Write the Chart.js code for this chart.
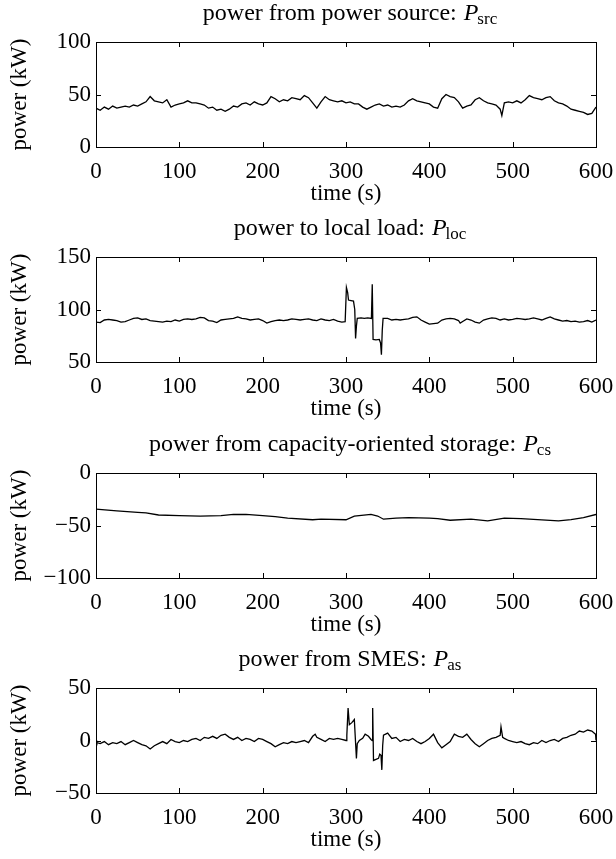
<!DOCTYPE html>
<html>
<head>
<meta charset="utf-8">
<script src="https://cdn.jsdelivr.net/npm/chart.js@4.4.1/dist/chart.umd.min.js"></script>
<style>
  html, body { margin: 0; padding: 0; background: #fff; overflow: hidden; }
  body { width: 616px; height: 859px; position: relative; }
  .panel { position: absolute; left: 0; width: 616px; height: 215px; }
  canvas { display: block; }
</style>
</head>
<body>
<div class="panel" style="top:0px"><canvas id="chartSrc" width="616" height="215"></canvas></div>
<div class="panel" style="top:215px"><canvas id="chartLoc" width="616" height="215"></canvas></div>
<div class="panel" style="top:431px"><canvas id="chartCs" width="616" height="215"></canvas></div>
<div class="panel" style="top:646px"><canvas id="chartAs" width="616" height="215"></canvas></div>
<script>
// tick labels
const xTicks = [0, 100, 200, 300, 400, 500, 600]
const yTicksSrc = [0, 50, 100]
const yTicksLoc = [50, 100, 150]
const yTicksCs = [-100, -50, 0]
const yTicksAs = [-50, 0, 50]

// power from power source
const timeSrc = [0, 5, 10, 15, 20, 25, 30, 35, 40, 45, 50, 55, 60, 65, 70, 75, 80, 85, 90, 95,
  100, 105, 110, 115, 120, 125, 130, 135, 140, 145, 150, 155, 160, 165, 170, 175, 180, 185, 190, 195,
  200, 205, 210, 215, 220, 225, 230, 235, 240, 245, 250, 255, 260, 265, 270, 275, 280, 285, 290, 295,
  300, 305, 310, 315, 320, 325, 330, 335, 340, 345, 350, 355, 360, 365, 370, 375, 380, 385, 390, 395,
  400, 405, 410, 415, 420, 425, 430, 435, 440, 445, 450, 455, 460, 465, 470, 475, 480, 485, 487, 490, 495,
  500, 505, 510, 515, 520, 525, 530, 535, 540, 545, 550, 555, 560, 565, 570, 575, 580, 585, 590, 595, 600]
const powerSrc = [37, 35, 38, 36, 39, 37, 38, 39, 38, 40, 39, 41, 43, 48, 44, 43, 42, 45, 38, 40,
  41, 42, 44, 42, 42, 41, 40, 37, 38, 35, 36, 34, 36, 39, 38, 41, 42, 40, 43, 41,
  40, 42, 48, 46, 43, 45, 44, 47, 46, 45, 49, 47, 42, 37, 43, 48, 45, 44, 43, 44,
  42, 43, 41, 41, 38, 36, 38, 40, 41, 39, 40, 38, 39, 38, 40, 44, 46, 44, 43, 42,
  41, 38, 37, 46, 50, 48, 47, 43, 37, 39, 40, 45, 47, 44, 42, 41, 40, 36, 30, 42, 43,
  42, 44, 42, 45, 49, 47, 46, 45, 47, 48, 44, 42, 41, 39, 36, 35, 34, 33, 31, 32, 38]

// power to local load
const timeLoc = [0, 5, 10, 15, 20, 25, 30, 35, 40, 45, 50, 55, 60, 65, 70, 75, 80, 85, 90, 95,
  100, 105, 110, 115, 120, 125, 130, 135, 140, 145, 150, 155, 160, 165, 170, 175, 180, 185, 190, 195,
  200, 205, 210, 215, 220, 225, 230, 235, 240, 245, 250, 255, 260, 265, 270, 275, 280, 285, 290, 295, 299,
  300.5, 302, 303, 306, 309, 310.5, 311.5, 312.5, 313.5, 318, 322, 326, 330.5, 331.5, 332.5, 336, 340,
  341.5, 342.5, 343.5, 344.5, 350, 355, 360, 365, 370, 375, 380, 385, 390, 395,
  400, 405, 410, 415, 420, 425, 430, 435, 437, 440, 445, 450, 455, 460, 465, 470, 475, 480, 485, 490, 495,
  500, 505, 510, 515, 520, 525, 530, 535, 540, 545, 550, 555, 560, 565, 570, 575, 580, 585, 590, 595, 600]
const powerLoc = [88, 87.5, 90, 90.5, 90, 89.5, 88, 88.5, 90, 91.5, 92, 90.5, 91, 89.5, 89, 88.5, 88, 89, 88.5, 90,
  89, 90.5, 91, 90.5, 91, 92.5, 92, 89.5, 89, 87.5, 90, 90.5, 91, 91.5, 93, 91.5, 91, 90, 90.5, 91,
  89.5, 87, 88.5, 89.5, 90, 89.5, 90, 91, 90.5, 90, 90.5, 91, 90, 89.5, 91, 90, 89.5, 90.5, 89, 88, 88.5,
  121, 116, 109, 108.5, 108, 100, 72.5, 84, 91.5, 92, 91.5, 92, 91.5, 124, 71.5, 71, 71.5,
  68, 57, 80, 91.5, 91.5, 90, 90.5, 90, 90.5, 91, 92.5, 93, 90, 88,
  86, 86.5, 87, 90, 91, 91.5, 91, 89.5, 87, 88.5, 91, 90, 88, 87, 90, 91, 92, 91.5, 90, 91, 90,
  90.5, 91.5, 91, 90.5, 91, 92, 91, 90, 91.5, 93, 91, 90, 89, 89.5, 88.5, 89, 88, 88.5, 89.5, 88, 90]

// power from capacity-oriented storage
const timeCs = [0, 25, 50, 60, 75, 100, 125, 150, 165, 180, 200, 215, 230, 260, 270, 300, 310,
  330, 338, 345, 360, 375, 400, 410, 425, 450, 470, 490, 510, 530, 555, 570, 585, 600]
const powerCs = [-34.4, -36, -37.5, -38, -40, -40.5, -41, -40.5, -39.5, -39.5, -40.5, -41.5, -43, -44.5, -44, -44.5, -41,
  -39.5, -41, -44, -43, -42.5, -43, -43.5, -45, -44, -45.5, -43, -43.5, -44.5, -45.5, -44.5, -42.5, -39.5]

// power from SMES
const timeAs = [0, 1, 5, 10, 15, 20, 25, 30, 35, 40, 45, 50, 55, 60, 65, 70, 75, 80, 85, 90, 95,
  100, 105, 110, 115, 120, 125, 130, 135, 140, 145, 150, 155, 160, 165, 170, 175, 180, 185, 190, 195,
  200, 205, 210, 215, 220, 225, 230, 235, 240, 245, 250, 255, 260, 263, 265, 270, 275, 280, 285, 290, 295,
  300, 301, 302.5, 304, 307, 310, 311, 312.5, 313.5, 316, 320, 323, 327, 330, 331.5, 332, 333, 336, 339,
  340.5, 342, 343, 344, 345, 350, 355, 360, 365, 370, 375, 380, 385, 390, 395,
  400, 405, 410, 415, 420, 425, 430, 435, 440, 445, 450, 455, 460, 465, 470, 475, 480, 485, 486, 488, 490, 495,
  500, 505, 510, 515, 520, 525, 530, 535, 540, 545, 550, 555, 560, 565, 570, 575, 580, 585, 590, 595, 598, 599.5, 600]
const powerAs = [0, -2, -3, -1, -4, -2, -3, -1, -4, -2, 0, -2, -4, -5, -8, -5, -3, -1, -3, 1, -1,
  -2, 0, -1, 1, 2, 0, 3, 2, 4, 2, 5, 6, 3, 1, 3, 0, 2, 1, -1, 2,
  1, -1, -3, -6, -4, -2, -3, -1, -2, -1, 0, -2, 4, 6, 3, 1, -1, 2, 1, 2, 1,
  0, 5, 31, 15, 17, 20, 5, -17, -3, 0, 2, 6, 4, 1, 0, 31, -19, -18, -17,
  -13, -14, -28, -5, 5, 7, 2, 3, -1, 1, 0, 2, -1, -3, -1,
  2, 6, -2, -7, -4, -1, 6, 4, 3, 6, 1, -3, -6, -3, 0, 2, 3, 5, 13, 3, 2, 0,
  -1, -2, -1, -3, -4, -2, -3, 0, -2, 0, 1, -1, 2, 3, 5, 6, 9, 8, 10, 9, 7, 6, 0]

const serif = "'Liberation Serif', 'Times New Roman', serif"

// title with an italic P and a subscript, drawn above the plot box
const mathTitle = {
  id: 'mathTitle',
  afterDraw(chart, args, opts) {
    const ctx = chart.ctx
    const area = chart.chartArea
    const mainFont = '24px ' + serif
    const italFont = 'italic 24px ' + serif
    const subFont = '17px ' + serif
    ctx.save()
    ctx.fillStyle = '#000'
    ctx.textBaseline = 'alphabetic'
    ctx.textAlign = 'left'
    ctx.font = mainFont
    const w1 = ctx.measureText(opts.text + ' ').width
    ctx.font = italFont
    const w2 = ctx.measureText('P').width
    ctx.font = subFont
    const w3 = ctx.measureText(opts.sub).width
    let x = (area.left + area.right) / 2 - (w1 + w2 + w3) / 2 + 4
    const y = 20
    ctx.font = mainFont
    ctx.fillText(opts.text + ' ', x, y)
    x += w1 + 1
    ctx.font = italFont
    ctx.fillText('P', x, y)
    x += w2 - 1
    ctx.font = subFont
    ctx.fillText(opts.sub, x, y + 4)
    ctx.restore()
  }
}

// box around the plot plus inward ticks on all four sides
const boxTicks = {
  id: 'boxTicks',
  afterDatasetsDraw(chart) {
    const ctx = chart.ctx
    const a = chart.chartArea
    const xs = chart.scales.x
    const ys = chart.scales.y
    const len = 5
    ctx.save()
    ctx.strokeStyle = '#000'
    ctx.lineWidth = 1
    ctx.strokeRect(Math.round(a.left) + 0.5, Math.round(a.top) + 0.5, Math.round(a.right - a.left), Math.round(a.bottom - a.top))
    ctx.beginPath()
    for (const v of xTicks) {
      const px = Math.round(xs.getPixelForValue(v)) + 0.5
      ctx.moveTo(px, a.bottom)
      ctx.lineTo(px, a.bottom - len)
      ctx.moveTo(px, a.top)
      ctx.lineTo(px, a.top + len)
    }
    for (const t of ys.ticks) {
      const py = Math.round(ys.getPixelForValue(t.value)) + 0.5
      ctx.moveTo(a.left, py)
      ctx.lineTo(a.left + len, py)
      ctx.moveTo(a.right, py)
      ctx.lineTo(a.right - len, py)
    }
    ctx.stroke()
    ctx.restore()
  }
}

function makeChart(id, times, values, yTicks, title, sub) {
  const points = times.map((t, i) => ({ x: t, y: values[i] }))
  return new Chart(document.getElementById(id), {
    type: 'line',
    data: {
      datasets: [{
        data: points,
        borderColor: '#000',
        borderWidth: 1.3,
        pointRadius: 0,
        tension: 0,
        fill: false
      }]
    },
    options: {
      responsive: false,
      animation: false,
      events: [],
      layout: { padding: { top: 42, right: 20, left: 0, bottom: 0 } },
      plugins: {
        legend: { display: false },
        tooltip: { enabled: false },
        mathTitle: { text: title, sub: sub }
      },
      scales: {
        x: {
          type: 'linear',
          min: xTicks[0],
          max: xTicks[xTicks.length - 1],
          afterBuildTicks: s => { s.ticks = xTicks.map(v => ({ value: v })) },
          afterFit: s => {
            s.height = 68
            s.paddingLeft = 0
            s.paddingRight = 0
          },
          grid: { display: false, drawTicks: false },
          border: { display: false },
          ticks: { color: '#000', font: { family: serif, size: 23 }, padding: 11, maxRotation: 0 },
          title: { display: true, text: 'time (s)', color: '#000', font: { family: serif, size: 23 }, padding: { top: 0, bottom: 7 } }
        },
        y: {
          min: yTicks[0],
          max: yTicks[yTicks.length - 1],
          afterBuildTicks: s => { s.ticks = yTicks.map(v => ({ value: v })) },
          afterFit: s => {
            s.width = 96
            s.paddingTop = 0
            s.paddingBottom = 0
          },
          grid: { display: false, drawTicks: false },
          border: { display: false },
          ticks: {
            color: '#000',
            font: { family: serif, size: 23 },
            padding: 5,
            callback: v => String(v).replace('-', '\u2212')
          },
          title: { display: true, text: 'power (kW)', color: '#000', font: { family: serif, size: 23 }, padding: { top: 6, bottom: 0 } }
        }
      }
    },
    plugins: [mathTitle, boxTicks]
  })
}

makeChart('chartSrc', timeSrc, powerSrc, yTicksSrc, 'power from power source:', 'src')
makeChart('chartLoc', timeLoc, powerLoc, yTicksLoc, 'power to local load:', 'loc')
makeChart('chartCs', timeCs, powerCs, yTicksCs, 'power from capacity-oriented storage:', 'cs')
makeChart('chartAs', timeAs, powerAs, yTicksAs, 'power from SMES:', 'as')
</script>
</body>
</html>
